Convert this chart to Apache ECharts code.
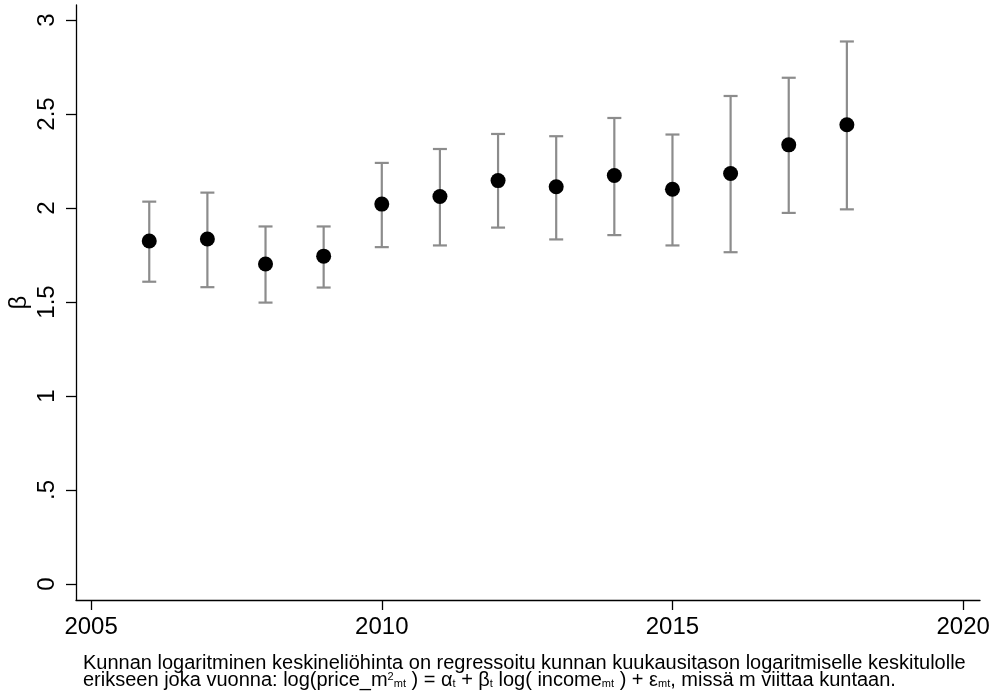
<!DOCTYPE html>
<html>
<head>
<meta charset="utf-8">
<script src="https://cdn.jsdelivr.net/npm/echarts@6/dist/echarts.min.js"></script>
<style>
  html, body { margin: 0; padding: 0; background: #fff; }
  #chart { width: 995px; height: 700px; }
</style>
</head>
<body>
<div id="chart"></div>
<script>
// Yearly regression coefficients with confidence intervals
const years = [2006, 2007, 2008, 2009, 2010, 2011, 2012, 2013, 2014, 2015, 2016, 2017, 2018];
const beta  = [1.825, 1.835, 1.702, 1.744, 2.021, 2.061, 2.146, 2.113, 2.173, 2.100, 2.184, 2.336, 2.443];
const lower = [1.608, 1.579, 1.497, 1.577, 1.792, 1.801, 1.896, 1.833, 1.856, 1.801, 1.765, 1.974, 1.993];
const upper = [2.034, 2.082, 1.902, 1.902, 2.240, 2.314, 2.394, 2.382, 2.479, 2.391, 2.596, 2.693, 2.886];

const xTicks = [2005, 2010, 2015, 2020];
const yTicks = [0, 0.5, 1, 1.5, 2, 2.5, 3];
const yTickLabels = ['0', '.5', '1', '1.5', '2', '2.5', '3'];

const FONT = '"Liberation Sans", Arial, Helvetica, sans-serif';

const chart = echarts.init(document.getElementById('chart'), null, { renderer: 'canvas' });

const intervals = years.map((y, i) => [y, lower[i], upper[i]]);
const points = years.map((y, i) => [y, beta[i]]);

chart.setOption({
  backgroundColor: '#ffffff',
  animation: false,
  grid: { left: 76, right: 15, top: 5, bottom: 100, containLabel: false, outerBoundsMode: 'none' },
  xAxis: {
    type: 'value',
    min: 2004.74,
    max: 2020.29,
    axisLine: { show: true, onZero: false, lineStyle: { color: '#000', width: 1.3 } },
    axisTick: { show: true, customValues: xTicks, length: 10, lineStyle: { color: '#000', width: 1.3 } },
    axisLabel: {
      customValues: xTicks,
      formatter: v => String(v),
      color: '#000', fontFamily: FONT, fontSize: 24, margin: 15
    },
    splitLine: { show: false }
  },
  yAxis: {
    type: 'value',
    min: -0.085,
    max: 3.08,
    name: 'β',
    nameLocation: 'middle',
    nameRotate: 90,
    nameGap: 45,
    nameMoveOverlap: false,
    nameTextStyle: { color: '#000', fontFamily: FONT, fontSize: 24 },
    axisLine: { show: true, onZero: false, lineStyle: { color: '#000', width: 1.3 } },
    axisTick: { show: true, customValues: yTicks, length: 10, lineStyle: { color: '#000', width: 1.3 } },
    axisLabel: {
      customValues: yTicks,
      rotate: 90,
      formatter: v => {
        const i = yTicks.findIndex(t => Math.abs(t - v) < 1e-9);
        return i >= 0 ? yTickLabels[i] : '';
      },
      color: '#000', fontFamily: FONT, fontSize: 24, margin: 17
    },
    splitLine: { show: false }
  },
  series: [
    {
      type: 'custom',
      data: intervals,
      z: 2,
      renderItem: (params, api) => {
        const x = api.value(0);
        const lo = api.coord([x, api.value(1)]);
        const hi = api.coord([x, api.value(2)]);
        const hw = 7;
        const style = { stroke: '#8c8c8c', lineWidth: 2.2 };
        return {
          type: 'group',
          children: [
            { type: 'line', shape: { x1: lo[0], y1: lo[1], x2: hi[0], y2: hi[1] }, style },
            { type: 'line', shape: { x1: hi[0] - hw, y1: hi[1], x2: hi[0] + hw, y2: hi[1] }, style },
            { type: 'line', shape: { x1: lo[0] - hw, y1: lo[1], x2: lo[0] + hw, y2: lo[1] }, style }
          ]
        };
      }
    },
    {
      type: 'scatter',
      data: points,
      z: 3,
      symbol: 'circle',
      symbolSize: 15,
      itemStyle: { color: '#000', opacity: 1 }
    }
  ],
  graphic: [
    {
      type: 'text',
      left: 83,
      top: 653,
      style: {
        text: 'Kunnan logaritminen keskineliöhinta on regressoitu kunnan kuukausitason logaritmiselle keskitulolle\n' +
              'erikseen joka vuonna: log(price_m{sup|2}{sub|mt} ) = α{sub|t} + β{sub|t} log( income{sub|mt} ) + ε{sub|mt}, missä m viittaa kuntaan.',
        fontFamily: FONT,
        fontSize: 20,
        lineHeight: 17.5,
        fill: '#000',
        rich: {
          sub: { fontFamily: FONT, fontSize: 11, lineHeight: 4, verticalAlign: 'bottom', fill: '#000' },
          sup: { fontFamily: FONT, fontSize: 11, lineHeight: 12, verticalAlign: 'top', fill: '#000' }
        }
      }
    }
  ]
});
</script>
</body>
</html>
